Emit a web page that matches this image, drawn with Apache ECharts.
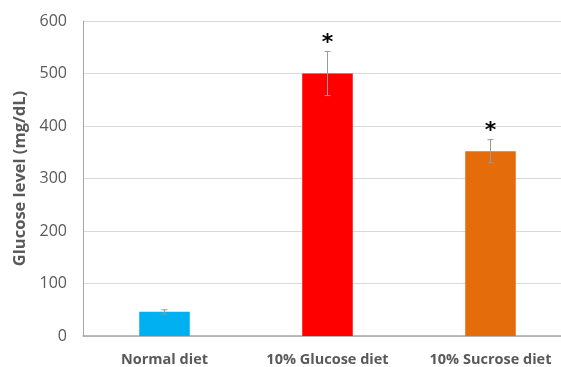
<!DOCTYPE html>
<html>
<head>
<meta charset="utf-8">
<script src="https://cdn.jsdelivr.net/npm/echarts@6/dist/echarts.min.js"></script>
<style>
  html, body { margin: 0; padding: 0; background: #fff; }
  #chart { width: 561px; height: 367px; }
</style>
</head>
<body>
<div id="chart"></div>
<script>
// Diet groups and blood glucose (mean ± SD)
var categories = ['Normal diet', '10% Glucose diet', '10% Sucrose diet'];
var glucoseMean = [46, 500, 352];
var glucoseErr = [4, 42, 22];
var significant = [false, true, true];
var barColors = ['#00B0F0', '#FF0000', '#E46C0A'];
var yTicks = { min: 0, max: 600, interval: 100 };

var chart = echarts.init(document.getElementById('chart'), null, { renderer: 'canvas' });

var errorData = categories.map(function (c, i) {
  return [i, glucoseMean[i], glucoseErr[i], significant[i] ? 1 : 0];
});

chart.setOption({
  animation: false,
  grid: { left: 83, top: 21, width: 489, height: 315, containLabel: false, outerBoundsMode: 'none' },
  xAxis: {
    type: 'category',
    data: categories,
    axisTick: { show: false },
    axisLine: { lineStyle: { color: '#A6A6A6', width: 1.5 } },
    axisLabel: {
      color: '#595959', fontWeight: 'bold', fontSize: 14.5,
      fontFamily: 'Open Sans', margin: 16
    }
  },
  yAxis: {
    type: 'value',
    min: yTicks.min, max: yTicks.max, interval: yTicks.interval,
    name: 'Glucose level (mg/dL)',
    nameLocation: 'middle',
    nameGap: 46,
    nameTextStyle: { color: '#595959', fontWeight: 'bold', fontSize: 16.5, fontFamily: 'Open Sans' },
    axisLine: { show: true, lineStyle: { color: '#A6A6A6', width: 1 } },
    axisTick: { show: false },
    splitLine: { lineStyle: { color: '#D9D9D9', width: 1 } },
    axisLabel: { color: '#595959', fontSize: 16, fontFamily: 'Open Sans', margin: 16 }
  },
  series: [
    {
      type: 'bar',
      barWidth: '31%',
      data: glucoseMean.map(function (v, i) {
        return { value: v, itemStyle: { color: barColors[i] } };
      }),
      z: 2
    },
    {
      type: 'custom',
      data: errorData,
      z: 3,
      renderItem: function (params, api) {
        var x = api.value(0);
        var m = api.value(1);
        var e = api.value(2);
        var top = api.coord([x, m + e]);
        var bot = api.coord([x, m - e]);
        var cap = 3;
        var children = [
          { type: 'line', shape: { x1: top[0], y1: top[1], x2: bot[0], y2: bot[1] },
            style: { stroke: '#9A9A9A', lineWidth: 1 } },
          { type: 'line', shape: { x1: top[0] - cap, y1: top[1], x2: top[0] + cap, y2: top[1] },
            style: { stroke: '#9A9A9A', lineWidth: 1 } },
          { type: 'line', shape: { x1: bot[0] - cap, y1: bot[1], x2: bot[0] + cap, y2: bot[1] },
            style: { stroke: '#9A9A9A', lineWidth: 1 } }
        ];
        if (api.value(3)) {
          children.push({
            type: 'text',
            style: {
              text: '*', x: top[0], y: top[1] - 8,
              align: 'center', verticalAlign: 'middle',
              fill: '#000', font: 'bold 22px "DejaVu Sans"'
            }
          });
        }
        return { type: 'group', children: children };
      }
    }
  ]
});
</script>
</body>
</html>
